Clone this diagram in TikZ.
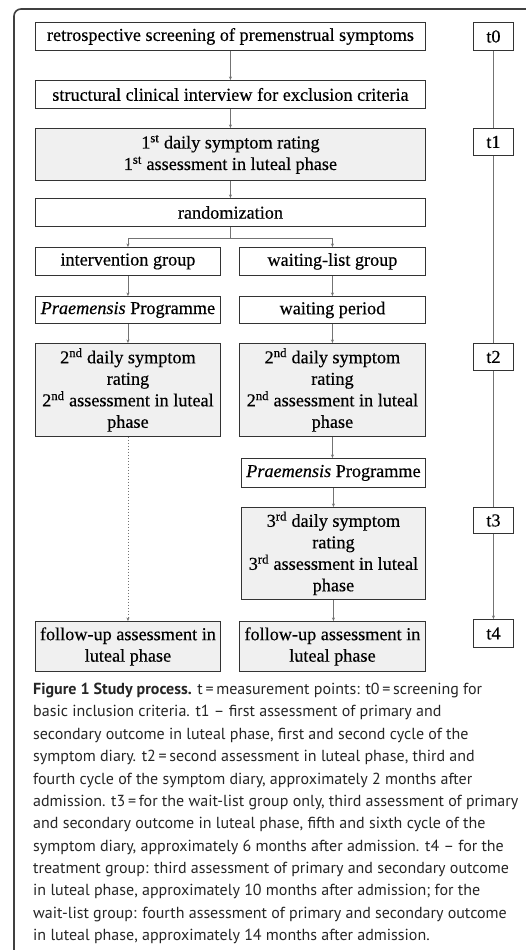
\documentclass[tikz,border=0pt]{standalone}
\usepackage{fontspec}
\setmainfont{Liberation Serif}
\newfontfamily\boxfont[FakeBold=0.4]{Liberation Serif}
\newfontfamily\capfont{PT Sans}
\usetikzlibrary{arrows.meta,backgrounds}
\begin{document}
\begin{tikzpicture}[x=1pt,y=-1pt,
  box/.style={draw=black!80, line width=0.9pt, fill=white, align=center,
    inner sep=0pt, anchor=north west, font=\boxfont\fontsize{18.2}{21.5}\selectfont},
  gbox/.style={box, fill=black!6},
  conn/.style={draw=black!55, line width=0.6pt, -{Stealth[length=3.5pt,width=3pt]}},
  dconn/.style={conn, dash pattern=on 1.5pt off 1.5pt},
  frame/.style={draw=black!75, line width=1.6pt, rounded corners=7pt},
  captext/.style={anchor=north west, align=left, inner sep=0pt,
    font=\capfont\fontsize{16}{22.36}\selectfont, text=black!85}
]
\useasboundingbox (0,0) rectangle (525,950);
\draw[frame] (527,9) -- (14,9) -- (14,952);

% main column
\node[box, minimum width=390pt, minimum height=28pt] (b1) at (35,22) {retrospective screening of premenstrual symptoms};
\node[box, minimum width=390pt, minimum height=28pt] (b2) at (35,80) {structural clinical interview for exclusion criteria};
\node[gbox, minimum width=390pt, minimum height=52pt] (b3) at (35,128) {1\textsuperscript{st} daily symptom rating\\1\textsuperscript{st} assessment in luteal phase};
\node[box, minimum width=390pt, minimum height=28pt] (b4) at (35,198) {randomization};

% left branch
\node[box, minimum width=185pt, minimum height=28pt] (l1) at (35,247) {intervention group};
\node[box, minimum width=185pt, minimum height=27pt] (l2) at (35,296) {\textit{Praemensis} Programme};
\node[gbox, minimum width=185pt, minimum height=93pt] (l3) at (35,343) {2\textsuperscript{nd} daily symptom\\rating\\2\textsuperscript{nd} assessment in luteal\\phase};
\node[gbox, minimum width=185pt, minimum height=50pt] (l6) at (35,621) {follow-up assessment in\\luteal phase};

% right branch
\node[box, minimum width=186pt, minimum height=28pt] (r1) at (239,247) {waiting-list group};
\node[box, minimum width=186pt, minimum height=27pt] (r2) at (239,296) {waiting period};
\node[gbox, minimum width=186pt, minimum height=93pt] (r3) at (239,343) {2\textsuperscript{nd} daily symptom\\rating\\2\textsuperscript{nd} assessment in luteal\\phase};
\node[box, minimum width=184pt, minimum height=29pt] (r4) at (241,458) {\textit{Praemensis} Programme};
\node[gbox, minimum width=184pt, minimum height=92pt] (r5) at (241,507) {3\textsuperscript{rd} daily symptom\\rating\\3\textsuperscript{rd} assessment in luteal\\phase};
\node[gbox, minimum width=186pt, minimum height=50pt] (r6) at (239,621) {follow-up assessment in\\luteal phase};

% time points
\node[box, minimum width=40pt, minimum height=28pt] (t0) at (473,22) {t0};
\node[box, minimum width=40pt, minimum height=27pt] (t1) at (473,128) {t1};
\node[box, minimum width=40pt, minimum height=27pt] (t2) at (473,343) {t2};
\node[box, minimum width=40pt, minimum height=26pt] (t3) at (473,507) {t3};
\node[box, minimum width=40pt, minimum height=28pt] (t4) at (473,619) {t4};

\begin{scope}[on background layer]
  \fill[white] (0,0) rectangle (525,950);
  \draw[conn] (b1) -- (b2);
  \draw[conn] (b2) -- (b3);
  \draw[conn] (b3) -- (b4);
  \coordinate (sp) at (b4.south |- 0,238);
  \draw[draw=black!55, line width=0.6pt] (b4.south) -- (sp);
  \draw[conn] (sp) -| (l1.north);
  \draw[conn] (sp) -| (r1.north);
  \draw[conn] (l1) -- (l2);
  \draw[conn] (l2) -- (l3);
  \draw[dconn] (l3) -- (l6);
  \draw[conn] (r1) -- (r2);
  \draw[conn] (r2) -- (r3);
  \draw[conn] (r3.south) -- (r3.south |- r4.north);
  \draw[conn] (r4) -- (r5);
  \draw[conn] (r5.south) -- (r5.south |- r6.north);
  \draw[conn] (t0.south) -- (t0.south |- t4.north);
\end{scope}

\node[captext] (caption) at (33,683) {\textbf{Figure 1 Study process.} t\,=\,measurement points: t0\,=\,screening for\\
basic inclusion criteria. t1 – first assessment of primary and\\
secondary outcome in luteal phase, first and second cycle of the\\
symptom diary. t2\,=\,second assessment in luteal phase, third and\\
fourth cycle of the symptom diary, approximately 2 months after\\
admission. t3\,=\,for the wait-list group only, third assessment of primary\\
and secondary outcome in luteal phase, fifth and sixth cycle of the\\
symptom diary, approximately 6 months after admission. t4 – for the\\
treatment group: third assessment of primary and secondary outcome\\
in luteal phase, approximately 10 months after admission; for the\\
wait-list group: fourth assessment of primary and secondary outcome\\
in luteal phase, approximately 14 months after admission.};
\end{tikzpicture}
\end{document}
